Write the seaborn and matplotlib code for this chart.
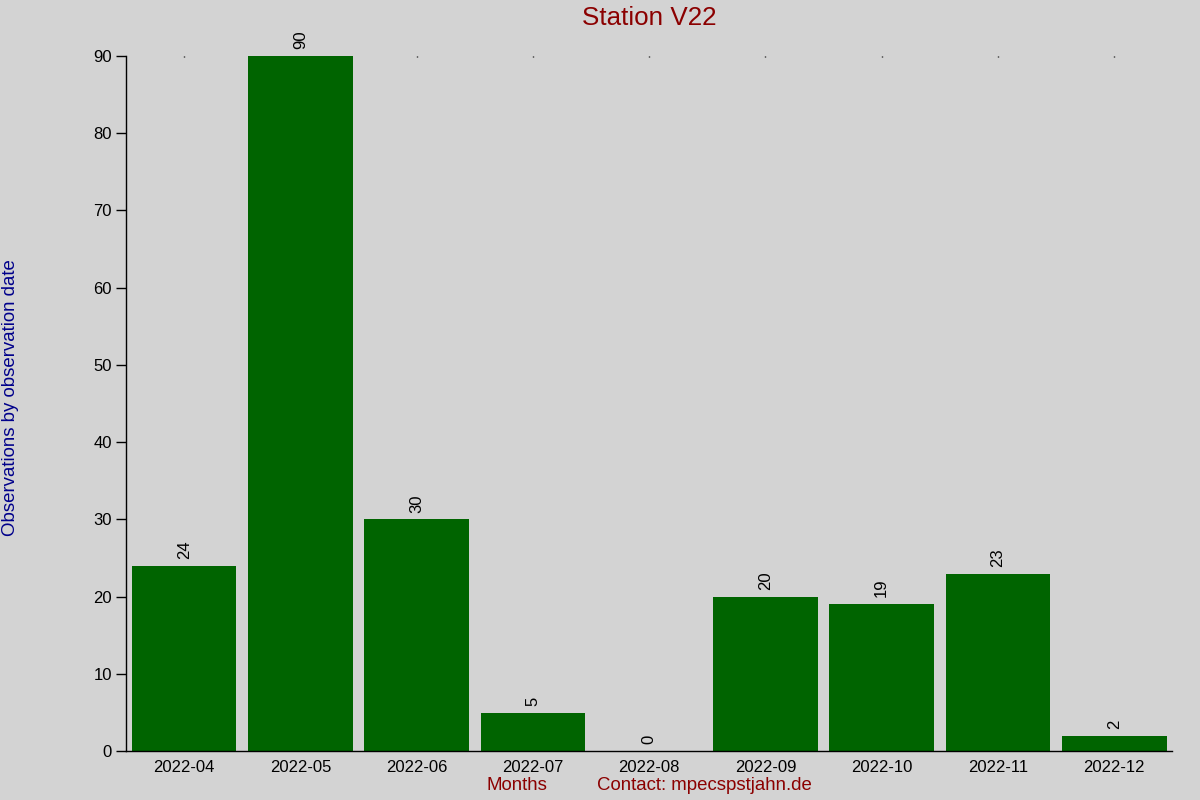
import matplotlib
matplotlib.use("Agg")
import matplotlib.pyplot as plt
import seaborn as sns
import pandas as pd

months = ["2022-04", "2022-05", "2022-06", "2022-07", "2022-08",
          "2022-09", "2022-10", "2022-11", "2022-12"]
counts = [24, 90, 30, 5, 0, 20, 19, 23, 2]

sns.set_theme(style="white")
plt.rcParams['font.family'] = ['Liberation Sans', 'DejaVu Sans']

bg = '#d3d3d3'
df = pd.DataFrame({'month': months, 'count': counts})

fig = plt.figure(figsize=(12, 8), dpi=100, facecolor=bg)
ax = fig.add_axes([0.105, 0.061, 0.872, 0.869])
ax.set_facecolor(bg)

sns.barplot(data=df, x='month', y='count', color='#006400', saturation=1,
            width=0.9, linewidth=0, ax=ax)

for i, v in enumerate(counts):
    ax.annotate(str(v), (i, v), xytext=(0, 5), textcoords='offset points',
                rotation=90, ha='center', va='bottom', fontsize=12, color='black')

ax.set_xlim(-0.5, 8.5)
ax.set_ylim(0, 90)
ax.set_yticks(range(0, 91, 10))
ax.set_xlabel('')
ax.set_ylabel('')

for s in ['top', 'right']:
    ax.spines[s].set_visible(False)
for s in ['left', 'bottom']:
    ax.spines[s].set_color('black')
    ax.spines[s].set_linewidth(1)

ax.tick_params(axis='y', which='major', left=True, length=7, width=1,
               color='black', labelsize=12, labelcolor='black', pad=3)
ax.tick_params(axis='x', which='major', bottom=False, top=True, length=1,
               width=1, direction='in', color='black', labelsize=12,
               labelcolor='black', pad=6)

fig.text(0.541, 0.978, 'Station V22', color='#8b0000', fontsize=18.7,
         ha='center', va='center')
fig.text(0.431, 0.018, 'Months', color='#8b0000', fontsize=13.4,
         ha='center', va='center')
fig.text(0.587, 0.018, 'Contact: mpecspstjahn.de', color='#8b0000',
         fontsize=13.4, ha='center', va='center')
fig.text(0.009, 0.503, 'Observations by observation date', color='#00008b',
         fontsize=13.4, rotation=90, ha='center', va='center')

fig.savefig('out.png', dpi=100, facecolor=bg)
